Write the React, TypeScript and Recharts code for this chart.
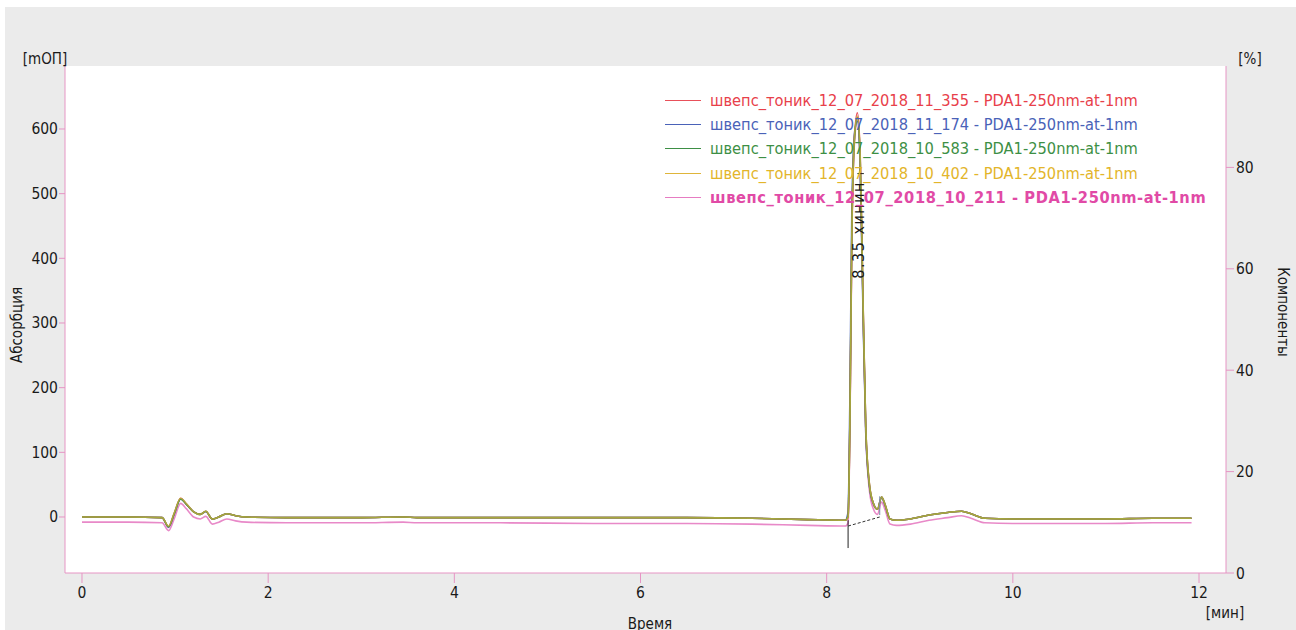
import React from 'react';
import {
  ComposedChart,
  Line,
  XAxis,
  YAxis,
  CartesianGrid,
  Legend,
  ReferenceLine,
  ReferenceDot,
  Label,
} from 'recharts';

const FONT = "'DejaVu Sans Condensed', 'DejaVu Sans', sans-serif";
const BORDER = '#e695c4';

// retention time, min
const times = [
  0, 0.5, 0.86, 0.93, 0.99, 1.06, 1.12, 1.2, 1.27, 1.33, 1.4, 1.47, 1.555, 1.65, 1.77,
  2.2, 3, 3.45, 3.6, 4.5, 5.5, 6.5, 7.2, 7.8, 8.2, 8.23, 8.25, 8.27, 8.3, 8.33, 8.36,
  8.39, 8.42, 8.46, 8.5, 8.545, 8.59, 8.63, 8.68, 8.75, 8.9, 9.1, 9.3, 9.45, 9.55, 9.7,
  10, 10.5, 11, 11.5, 11.92,
];

// absorbance, mAU
const run355 = [
  0, 0, -1, -15, 5, 29, 20, 8, 4, 9, -3, 0, 5, 2, 0,
  -1, -1, 0, -1, -1, -1, -1, -2, -4, -5, 0, 150, 430, 590, 625, 560,
  340, 140, 50, 22, 12, 31, 18, -3, -5, -3, 3, 7, 9, 5, -2,
  -3, -3, -3, -2, -2,
];
const run174 = [
  0, 0, -1, -16, 4, 28, 20, 8, 4, 8, -3, 0, 5, 2, 0,
  -1, -1, 0, -1, -1, -1, -1, -2, -4, -5, 8, 190, 470, 595, 612, 540,
  320, 130, 47, 21, 12, 30, 17, -3, -5, -3, 3, 7, 9, 5, -2,
  -3, -3, -3, -2, -2,
];
const run583 = [
  0, 0, -1, -15, 5, 28, 20, 8, 4, 9, -3, 0, 5, 2, 0,
  -1, -1, 0, -1, -1, -1, -1, -2, -4, -5, 1, 155, 435, 588, 618, 555,
  335, 138, 49, 22, 12, 31, 18, -3, -5, -3, 3, 7, 9, 5, -2,
  -3, -3, -3, -2, -2,
];
const run402 = [
  0, 0, -1, -14, 6, 29, 21, 8, 4, 9, -3, 0, 5, 2, 0,
  -1, -1, 0, -1, -1, -1, -1, -2, -4, -5, 0, 152, 432, 590, 620, 558,
  338, 139, 50, 22, 12, 31, 18, -3, -5, -3, 3, 7, 9, 5, -2,
  -3, -3, -3, -2, -2,
];
const run211 = [
  -8, -8, -9, -21, -3, 21, 13, 0, -3, 1, -11, -8, -3, -6, -8,
  -9, -9, -8, -9, -9, -10, -10, -11, -13, -14, -9, 140, 420, 582, 614, 552,
  330, 130, 40, 13, 4, 23, 10, -11, -13, -11, -5, -1, 2, -2, -9,
  -10, -10, -10, -9, -9,
];

const seriesNames = [
  'швепс_тоник_12_07_2018_11_355 - PDA1-250nm-at-1nm',
  'швепс_тоник_12_07_2018_11_174 - PDA1-250nm-at-1nm',
  'швепс_тоник_12_07_2018_10_583 - PDA1-250nm-at-1nm',
  'швепс_тоник_12_07_2018_10_402 - PDA1-250nm-at-1nm',
  'швепс_тоник_12_07_2018_10_211 - PDA1-250nm-at-1nm',
];
const seriesKeys = ['r355', 'r174', 'r583', 'r402', 'r211'];
const seriesColors = ['#e8404a', '#4a62b8', '#3d8f45', '#e3b52a', '#e14aa6'];
const lineColors = ['#e8505a', '#4a62b8', '#3d8f45', '#dfb53a', '#e67cc2'];
const seriesValues = [run355, run174, run583, run402, run211];

const xTicks = [0, 2, 4, 6, 8, 10, 12];
const leftTicks = [0, 100, 200, 300, 400, 500, 600];
const rightTicks = [0, 20, 40, 60, 80];

const data = times.map((t, i) => {
  const row: Record<string, number> = { t };
  seriesKeys.forEach((k, j) => {
    row[k] = seriesValues[j][i];
  });
  return row;
});

const drawOrder = [4, 1, 0, 2, 3];
const drawOpacity = [0.9, 1, 1, 1, 0.65];

const tickStyle = { fill: '#1a1a1a', fontSize: 15.5, fontFamily: FONT };

const LegendBox = () => (
  <div style={{ fontFamily: FONT, fontSize: 16.3 }}>
    {seriesNames.map((n, i) => (
      <div
        key={n}
        style={{
          display: 'flex',
          alignItems: 'center',
          height: 24.3,
          color: seriesColors[i],
          fontWeight: i === 4 ? 'bold' : 'normal',
          letterSpacing: i === 4 ? 0.6 : 0,
          whiteSpace: 'nowrap',
        }}
      >
        <div style={{ width: 36, height: 1, background: lineColors[i], marginRight: 9 }} />
        <span>{n}</span>
      </div>
    ))}
  </div>
);

export default function App() {
  return (
    <div style={{ position: 'absolute', left: 0, top: 0, width: 1296, height: 630, background: '#ffffff', overflow: 'hidden' }}>
      <div style={{ position: 'absolute', left: 5, top: 7, width: 1291, height: 623, background: '#ebebeb' }} />
      <div style={{ position: 'absolute', left: 0, top: 0 }}>
        <ComposedChart
          width={1296}
          height={630}
          data={data}
          margin={{ top: 66, right: 20, bottom: 17, left: 15 }}
        >
          <CartesianGrid fill="#ffffff" stroke="none" horizontal={false} vertical={false} />
          <XAxis
            dataKey="t"
            type="number"
            domain={[-0.1826, 12.29]}
            ticks={xTicks}
            allowDataOverflow
            height={40}
            stroke={BORDER}
            tickLine={{ stroke: BORDER }}
            tickSize={10}
            tick={tickStyle}
            tickMargin={4}
          >
            <Label
              content={({ viewBox }: any) => (
                <g>
                  <text x={650} y={viewBox.y + 56} textAnchor="middle" fontFamily={FONT} fontSize={15} fill="#1a1a1a">
                    Время
                  </text>
                  <text x={viewBox.x + viewBox.width - 1} y={viewBox.y + 45} textAnchor="middle" fontFamily={FONT} fontSize={15} fill="#1a1a1a">
                    [мин]
                  </text>
                </g>
              )}
            />
          </XAxis>
          <XAxis
            xAxisId="top"
            dataKey="t"
            type="number"
            orientation="top"
            domain={[-0.1826, 12.29]}
            allowDataOverflow
            height={0}
            tick={false}
            tickLine={false}
            stroke={BORDER}
          />
          <YAxis
            yAxisId="left"
            type="number"
            domain={[-86.6, 697.4]}
            ticks={leftTicks}
            allowDataOverflow
            width={50}
            stroke={BORDER}
            tickLine={{ stroke: BORDER }}
            tickSize={6}
            tick={tickStyle}
            tickMargin={1}
          >
            <Label
              content={({ viewBox }: any) => (
                <g>
                  <text x={viewBox.x + 30} y={viewBox.y - 2} textAnchor="middle" fontFamily={FONT} fontSize={15} fill="#1a1a1a">
                    [mОП]
                  </text>
                  <text
                    x={viewBox.x + 2}
                    y={325}
                    textAnchor="middle"
                    dominantBaseline="central"
                    transform={`rotate(-90 ${viewBox.x + 2} 325)`}
                    fontFamily={FONT}
                    fontSize={15}
                    fill="#1a1a1a"
                  >
                    Абсорбция
                  </text>
                </g>
              )}
            />
          </YAxis>
          <YAxis
            yAxisId="right"
            orientation="right"
            type="number"
            domain={[0, 100]}
            ticks={rightTicks}
            allowDataOverflow
            width={50}
            stroke={BORDER}
            tickLine={{ stroke: BORDER }}
            tickSize={8}
            tick={tickStyle}
            tickMargin={2}
          >
            <Label
              content={({ viewBox }: any) => (
                <g>
                  <text x={viewBox.x + 24} y={viewBox.y - 2} textAnchor="middle" fontFamily={FONT} fontSize={15} fill="#1a1a1a">
                    [%]
                  </text>
                  <text
                    x={viewBox.x + 57}
                    y={312}
                    textAnchor="middle"
                    dominantBaseline="central"
                    transform={`rotate(90 ${viewBox.x + 57} 312)`}
                    fontFamily={FONT}
                    fontSize={15}
                    fill="#1a1a1a"
                  >
                    Компоненты
                  </text>
                </g>
              )}
            />
          </YAxis>
          <Legend
            layout="vertical"
            align="center"
            verticalAlign="middle"
            wrapperStyle={{ left: 665, top: 88, width: 600 }}
            content={() => <LegendBox />}
          />
          {drawOrder.map((j, k) => (
            <Line
              key={seriesKeys[j]}
              yAxisId="left"
              dataKey={seriesKeys[j]}
              type="monotone"
              stroke={lineColors[j]}
              strokeOpacity={drawOpacity[k]}
              strokeWidth={1.6}
              dot={false}
              isAnimationActive={false}
            />
          ))}
          <Line yAxisId="right" dataKey="none" stroke="none" dot={false} isAnimationActive={false} legendType="none" />
          <ReferenceLine
            yAxisId="left"
            segment={[{ x: 8.23, y: -5 }, { x: 8.23, y: -48 }]}
            stroke="#222"
            strokeWidth={1}
          />
          <ReferenceLine
            yAxisId="left"
            segment={[{ x: 8.23, y: -14 }, { x: 8.57, y: 0 }]}
            stroke="#333"
            strokeDasharray="3 2"
            strokeWidth={1}
          />
          <ReferenceLine
            yAxisId="left"
            segment={[{ x: 8.57, y: 32 }, { x: 8.57, y: 3 }]}
            stroke="#7a8aa8"
            strokeWidth={1}
          />
          <ReferenceLine
            yAxisId="left"
            segment={[{ x: 8.33, y: 531 }, { x: 8.4, y: 531 }]}
            stroke="#222"
            strokeWidth={1}
          />
          <ReferenceDot
            yAxisId="left"
            x={8.34}
            y={444}
            r={0}
            shape={(p: any) => (
              <text
                x={p.cx}
                y={p.cy}
                textAnchor="middle"
                dominantBaseline="central"
                transform={`rotate(-90 ${p.cx} ${p.cy})`}
                fontFamily={FONT}
                fontSize={16}
                letterSpacing={1.5}
                fill="#1a1a1a"
              >
                8.35 хинин
              </text>
            )}
          />
        </ComposedChart>
      </div>
    </div>
  );
}
